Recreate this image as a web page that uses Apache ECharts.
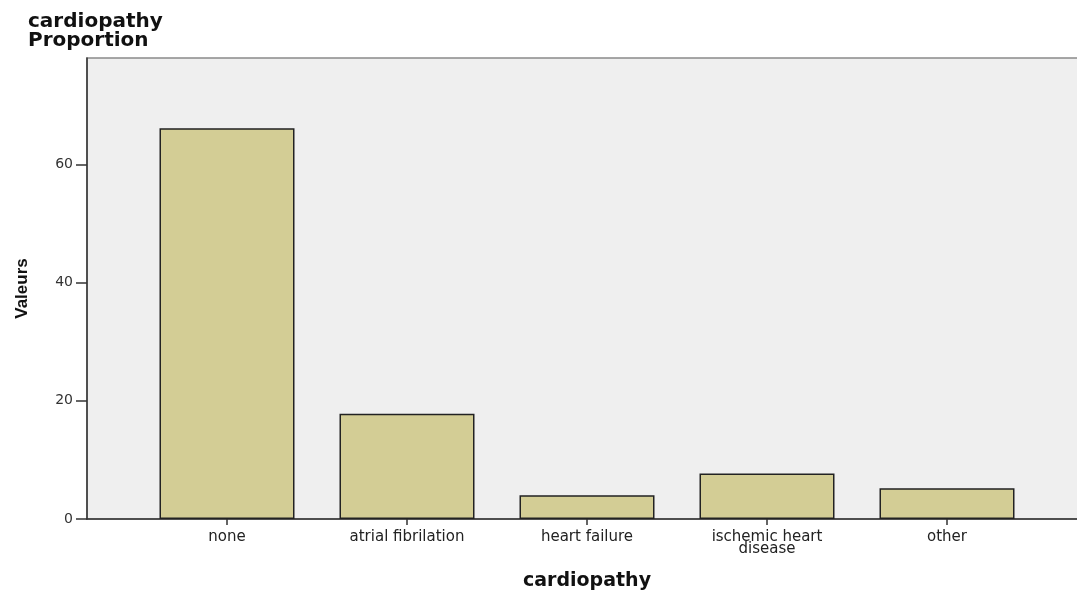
<!DOCTYPE html>
<html>
<head>
<meta charset="utf-8">
<script src="https://cdn.jsdelivr.net/npm/echarts@6/dist/echarts.min.js"></script>
<style>
  html, body { margin: 0; padding: 0; background: #fff; }
  #chart { width: 1077px; height: 593px; }
</style>
</head>
<body>
<div id="chart"></div>
<script>
const categories = ['none', 'atrial fibrilation', 'heart failure', 'ischemic heart\ndisease', 'other'];
const proportions = [66.1, 17.8, 4.0, 7.7, 5.2];
const yTicks = [0, 20, 40, 60];

const chart = echarts.init(document.getElementById('chart'));

const option = {
  animation: false,
  title: {
    text: 'cardiopathy\nProportion',
    left: 23,
    top: 7,
    textStyle: {
      fontFamily: 'DejaVu Sans',
      fontWeight: 'bold',
      fontSize: 20,
      lineHeight: 19,
      color: '#111'
    }
  },
  grid: [
    // background frame, wider than the category band
    { left: 87, right: -3, top: 58, bottom: 74, show: true, backgroundColor: '#efefef', borderColor: '#8a8a8a', borderWidth: 1.5, outerBoundsMode: 'none' },
    // bars
    { left: 137, right: 40, top: 58, bottom: 74, outerBoundsMode: 'none' }
  ],
  xAxis: [
    {
      gridIndex: 0, type: 'value', min: 0, max: 1,
      axisLine: { show: true, lineStyle: { color: '#333', width: 1.5 } },
      axisTick: { show: false }, axisLabel: { show: false }, splitLine: { show: false }
    },
    {
      gridIndex: 1, type: 'category', data: categories,
      name: 'cardiopathy', nameLocation: 'middle', nameGap: 53,
      nameTextStyle: { fontFamily: 'DejaVu Sans', fontWeight: 'bold', fontSize: 19, color: '#111' },
      axisLine: { show: false },
      axisTick: { show: true, alignWithLabel: true, length: 6, lineStyle: { color: '#333', width: 1.5 } },
      axisLabel: { fontFamily: 'DejaVu Sans', fontSize: 15, color: '#222', lineHeight: 12, margin: 12, interval: 0 }
    }
  ],
  yAxis: [
    { gridIndex: 0, type: 'value', show: false, min: 0, max: 1 },
    {
      gridIndex: 1, type: 'value', min: 0, max: 78, interval: 20, offset: 50,
      name: 'Valeurs', nameLocation: 'middle', nameRotate: 90, nameGap: 56,
      nameTextStyle: { fontFamily: 'Liberation Sans', fontWeight: 'bold', fontSize: 17, color: '#111' },
      axisLine: { show: true, lineStyle: { color: '#333', width: 1.5 } },
      axisTick: { show: true, length: 11, customValues: yTicks, lineStyle: { color: '#333', width: 1.5 } },
      axisLabel: {
        fontFamily: 'DejaVu Sans', fontSize: 14, color: '#333', margin: 14,
        customValues: yTicks
      },
      splitLine: { show: false }
    }
  ],
  series: [
    {
      type: 'bar',
      xAxisIndex: 1,
      yAxisIndex: 1,
      data: proportions,
      barCategoryGap: '25%',
      itemStyle: { color: '#d3cd95', borderColor: '#222', borderWidth: 1.5 }
    }
  ]
};

chart.setOption(option);
</script>
</body>
</html>
